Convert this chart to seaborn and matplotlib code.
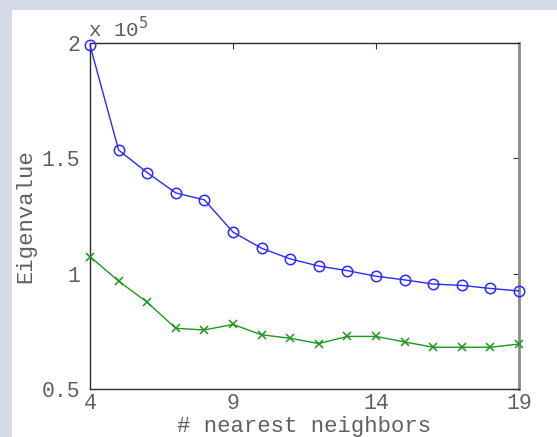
import numpy as np
import pandas as pd
import seaborn as sns
import matplotlib
matplotlib.use("Agg")
import matplotlib.pyplot as plt
from matplotlib.patches import Rectangle
from matplotlib.ticker import FuncFormatter

# Number of nearest neighbours used to build the graph
neighbors = [4, 5, 6, 7, 8, 9, 10, 11, 12, 13, 14, 15, 16, 17, 18, 19]

# Leading eigenvalues for each neighbourhood size
eig_first = [199000, 153600, 143800, 135000, 132000, 118000, 111000, 106400,
             103300, 101300, 98900, 97300, 95500, 94900, 93600, 92500]
eig_second = [107400, 96800, 87600, 76300, 75600, 78000, 73500, 72000,
              69700, 72800, 72800, 70400, 68100, 68100, 68100, 69500]

y_ticks = [0.5e5, 1.0e5, 1.5e5, 2.0e5]
x_ticks = [4, 9, 14, 19]

df = pd.DataFrame({
    "k": neighbors * 2,
    "eig": eig_first + eig_second,
    "series": ["first"] * len(neighbors) + ["second"] * len(neighbors),
})

sns.set_style("white")
plt.rcParams["font.family"] = ["Liberation Mono", "DejaVu Sans Mono"]

W, H = 557, 437
fig = plt.figure(figsize=(W / 100, H / 100), dpi=100)
fig.patch.set_facecolor("white")

# light frame strips along the left and top edges
frame = "#d3dbe9"
fig.patches.append(Rectangle((0, 0), 12 / W, 1, transform=fig.transFigure,
                             facecolor=frame, edgecolor="none", zorder=0))
fig.patches.append(Rectangle((0, 1 - 10 / H), 1, 10 / H, transform=fig.transFigure,
                             facecolor=frame, edgecolor="none", zorder=0))

left, right, top, bottom = 90, 519, 43, 389
ax = fig.add_axes([left / W, (H - bottom) / H, (right - left) / W, (bottom - top) / H])
ax.set_facecolor("white")

palette = {"first": "#2a2aff", "second": "#1e961e"}
sns.lineplot(data=df[df.series == "first"], x="k", y="eig", ax=ax,
             color=palette["first"], lw=1.0, marker="o", markersize=7.5,
             markerfacecolor="none", markeredgecolor=palette["first"],
             markeredgewidth=1.1, clip_on=False, zorder=3)
sns.lineplot(data=df[df.series == "second"], x="k", y="eig", ax=ax,
             color=palette["second"], lw=1.0, marker="x", markersize=5.5,
             markeredgecolor=palette["second"], markeredgewidth=1.1,
             clip_on=False, zorder=3)

ax.set_xlim(4, 19)
ax.set_ylim(0.5e5, 2.0e5)
ax.set_xticks(x_ticks)
ax.set_yticks(y_ticks)
ax.yaxis.set_major_formatter(FuncFormatter(lambda v, p: f"{v / 1e5:g}"))

tick_color = "#606060"
ax.tick_params(axis="both", direction="in", length=4, width=0.8, colors="#333333",
               labelcolor=tick_color, labelsize=15.5, top=True, right=True)
ax.tick_params(axis="x", pad=3)
ax.tick_params(axis="y", pad=7)

for side in ["left", "top", "bottom"]:
    ax.spines[side].set_color("#2a2a2a")
    ax.spines[side].set_linewidth(1.0)
ax.spines["right"].set_color("#8a8a8a")
ax.spines["right"].set_linewidth(2.0)

ax.set_xlabel("# nearest neighbors", fontsize=16, color=tick_color, labelpad=1)
ax.set_ylabel("Eigenvalue", fontsize=16, color=tick_color, labelpad=4)

fig.text(88 / W, 1 - 37 / H, r"x 10$^{5}$", fontsize=15, color=tick_color,
         ha="left", va="baseline")

fig.savefig("out.png", dpi=100, facecolor=fig.get_facecolor())
